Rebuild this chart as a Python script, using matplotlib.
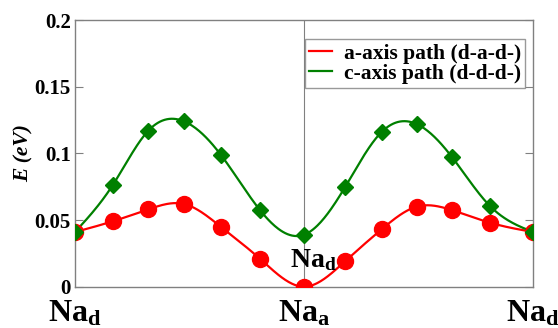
import numpy as np
import matplotlib
matplotlib.use("Agg")
import matplotlib.pyplot as plt

plt.rcParams['font.family'] = 'Liberation Serif'
plt.rcParams['font.weight'] = 'bold'
plt.rcParams['mathtext.fontset'] = 'custom'
plt.rcParams['mathtext.rm'] = 'Liberation Serif:bold'
plt.rcParams['mathtext.it'] = 'Liberation Serif:italic:bold'
plt.rcParams['mathtext.bf'] = 'Liberation Serif:bold'

# reaction coordinate (Na_d -> Na_a -> Na_d)
path_x = [0.0, 0.164, 0.320, 0.476, 0.636, 0.807, 1.0,
          1.178, 1.338, 1.491, 1.644, 1.811, 2.0]
# energies (eV)
e_a_axis = [0.041, 0.049, 0.058, 0.062, 0.045, 0.021, 0.0,
            0.019, 0.043, 0.060, 0.0575, 0.048, 0.041]
e_c_axis = [0.041, 0.076, 0.117, 0.124, 0.099, 0.0575, 0.039,
            0.0745, 0.116, 0.122, 0.0975, 0.0605, 0.041]

site_ticks = [0.0, 1.0, 2.0]
site_labels = [r'Na$_\mathrm{d}$', r'Na$_\mathrm{a}$', r'Na$_\mathrm{d}$']
y_ticks = [0, 0.05, 0.1, 0.15, 0.2]
y_labels = ['0', '0.05', '0.1', '0.15', '0.2']


def natural_spline(x, y, xs):
    # plain natural cubic spline, no scipy needed
    x = np.asarray(x, float)
    y = np.asarray(y, float)
    n = len(x)
    h = np.diff(x)
    A = np.zeros((n, n))
    b = np.zeros(n)
    A[0, 0] = 1
    A[-1, -1] = 1
    for i in range(1, n - 1):
        A[i, i - 1] = h[i - 1]
        A[i, i] = 2 * (h[i - 1] + h[i])
        A[i, i + 1] = h[i]
        b[i] = 3 * ((y[i + 1] - y[i]) / h[i] - (y[i] - y[i - 1]) / h[i - 1])
    c = np.linalg.solve(A, b)
    idx = np.clip(np.searchsorted(x, xs) - 1, 0, n - 2)
    dx = xs - x[idx]
    hi = h[idx]
    bb = (y[idx + 1] - y[idx]) / hi - hi * (2 * c[idx] + c[idx + 1]) / 3
    dd = (c[idx + 1] - c[idx]) / (3 * hi)
    return y[idx] + bb * dx + c[idx] * dx ** 2 + dd * dx ** 3


fig = plt.figure(figsize=(5.58, 3.28), dpi=100)
ax = fig.add_axes([0.1344, 0.1259, 0.8213, 0.8131])

xs = np.linspace(0, 2, 400)
ax.axvline(1.0, color='#808080', lw=0.8, zorder=1)

ax.plot(xs, natural_spline(path_x, e_a_axis, xs), color='#ff0000', lw=1.6,
        label='a-axis path (d-a-d-)', zorder=3)
ax.plot(path_x, e_a_axis, 'o', color='#ff0000', ms=11.5, zorder=4)
ax.plot(xs, natural_spline(path_x, e_c_axis, xs), color='#008000', lw=1.6,
        label='c-axis path (d-d-d-)', zorder=3)
ax.plot(path_x, e_c_axis, 'D', color='#008000', ms=8.2, zorder=5)

ax.set_xlim(0, 2)
ax.set_ylim(0, 0.2)
ax.set_yticks(y_ticks)
ax.set_yticklabels(y_labels, fontsize=15, fontweight='bold')
ax.set_xticks(site_ticks)
ax.set_xticklabels(site_labels, fontsize=23, fontweight='bold')
ax.tick_params(axis='x', length=0, pad=9)
ax.tick_params(axis='y', direction='in', length=6, color='#808080',
               right=True, pad=3)
for s in ax.spines.values():
    s.set_color('#808080')
    s.set_linewidth(1.0)

ax.set_ylabel('E (eV)', fontsize=15.5, fontstyle='italic', fontweight='bold',
              labelpad=1)

ax.text(0.937, 0.0145, r'Na$_\mathrm{d}$', fontsize=20, fontweight='bold',
        zorder=6)

leg = ax.legend(loc='upper right', bbox_to_anchor=(0.983, 0.928),
                fontsize=15.5, frameon=True, fancybox=False,
                handlelength=1.05, handletextpad=0.55, borderpad=0.2,
                labelspacing=0.0, borderaxespad=0)
leg.get_frame().set_edgecolor('#808080')
leg.get_frame().set_linewidth(1.0)
for t in leg.get_texts():
    t.set_fontweight('bold')

fig.savefig('out.png', dpi=100)
